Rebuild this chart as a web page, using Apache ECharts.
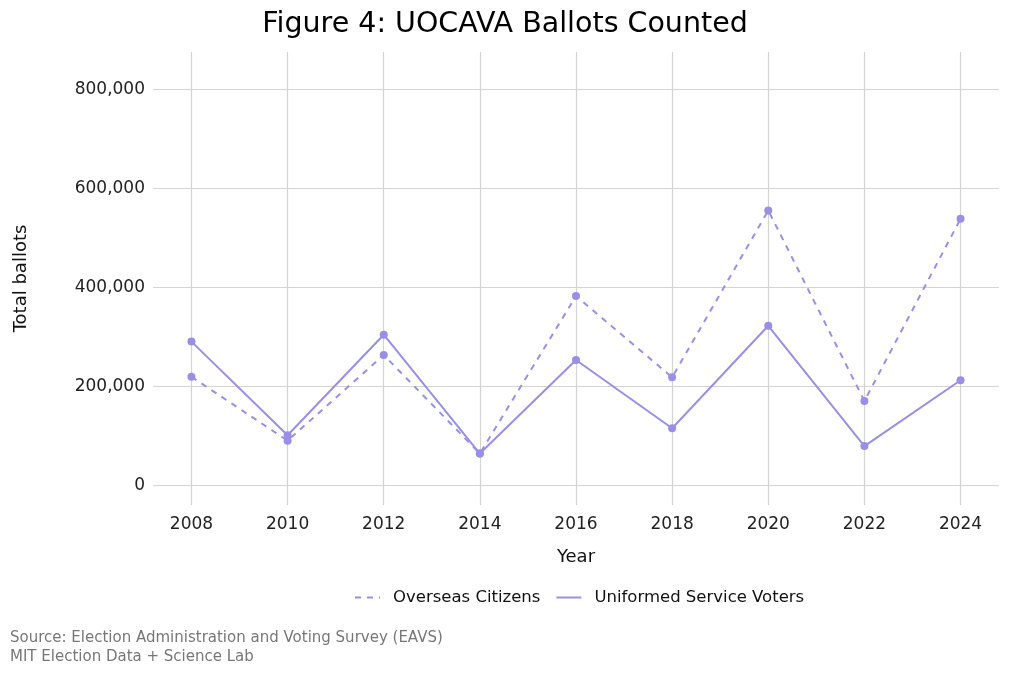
<!DOCTYPE html>
<html>
<head>
<meta charset="utf-8">
<script src="https://cdn.jsdelivr.net/npm/echarts@6/dist/echarts.min.js"></script>
<style>html,body{margin:0;padding:0;background:#fff}#c{width:1010px;height:673px}</style>
</head>
<body>
<div id="c"></div>
<script>
var years = [2008, 2010, 2012, 2014, 2016, 2018, 2020, 2022, 2024];
var overseasCitizens = [219000, 90000, 263000, 64000, 382000, 218000, 555000, 170000, 538000];
var uniformedService = [290000, 101000, 304000, 64000, 253000, 115000, 322000, 79000, 212000];
var yTicks = [0, 200000, 400000, 600000, 800000];

var color = '#9A8FE6';
var font = '"DejaVu Sans", sans-serif';
function pairs(vals) { return years.map(function (y, i) { return [y, vals[i]]; }); }

var chart = echarts.init(document.getElementById('c'));
chart.setOption({
  backgroundColor: '#fff',
  animation: false,
  title: {
    text: 'Figure 4: UOCAVA Ballots Counted',
    left: 'center', top: 5,
    textStyle: { fontFamily: font, fontSize: 28.5, fontWeight: 'normal', color: '#000' }
  },
  grid: { left: 153, right: 11, top: 52, bottom: 168, containLabel: false },
  xAxis: {
    type: 'value', min: 2007.2, max: 2024.8,
    name: 'Year', nameLocation: 'middle', nameGap: 43,
    nameTextStyle: { fontFamily: font, fontSize: 18, color: '#111' },
    axisLine: { show: false },
    axisTick: { show: false, customValues: years },
    axisLabel: { customValues: years, fontFamily: font, fontSize: 17, color: '#222', margin: 11, formatter: function (v) { return String(v); } },
    splitLine: { show: true, lineStyle: { color: '#d4d4d4', width: 1.2 } }
  },
  yAxis: {
    type: 'value', min: -40000, max: 875000,
    name: 'Total ballots', nameLocation: 'middle', nameGap: 123, nameRotate: 90,
    nameTextStyle: { fontFamily: font, fontSize: 18, color: '#111' },
    axisLine: { show: false },
    axisTick: { show: false, customValues: yTicks },
    axisLabel: { customValues: yTicks, fontFamily: font, fontSize: 17, color: '#222', margin: 8,
      formatter: function (v) { return v.toLocaleString('en-US'); } },
    splitLine: { show: true, lineStyle: { color: '#d4d4d4', width: 1.2 } }
  },
  legend: {
    bottom: 62, left: 349,
    itemWidth: 25, itemHeight: 10, itemGap: 15,
    itemStyle: { opacity: 0 },
    textStyle: { fontFamily: font, fontSize: 16.5, color: '#111', padding: [0, 0, 0, 8] },
    data: ['Overseas Citizens', 'Uniformed Service Voters']
  },
  graphic: [
    { type: 'text', left: 10, top: 629, style: { text: 'Source: Election Administration and Voting Survey (EAVS)\nMIT Election Data + Science Lab', fill: '#777', font: '15px ' + font, lineHeight: 19 } }
  ],
  series: [
    {
      name: 'Overseas Citizens', type: 'line', data: pairs(overseasCitizens),
      symbol: 'circle', symbolSize: 8,
      lineStyle: { color: color, width: 2, type: [6, 6] },
      itemStyle: { color: color }
    },
    {
      name: 'Uniformed Service Voters', type: 'line', data: pairs(uniformedService),
      symbol: 'circle', symbolSize: 8,
      lineStyle: { color: color, width: 2 },
      itemStyle: { color: color }
    }
  ]
});
</script>
</body>
</html>
